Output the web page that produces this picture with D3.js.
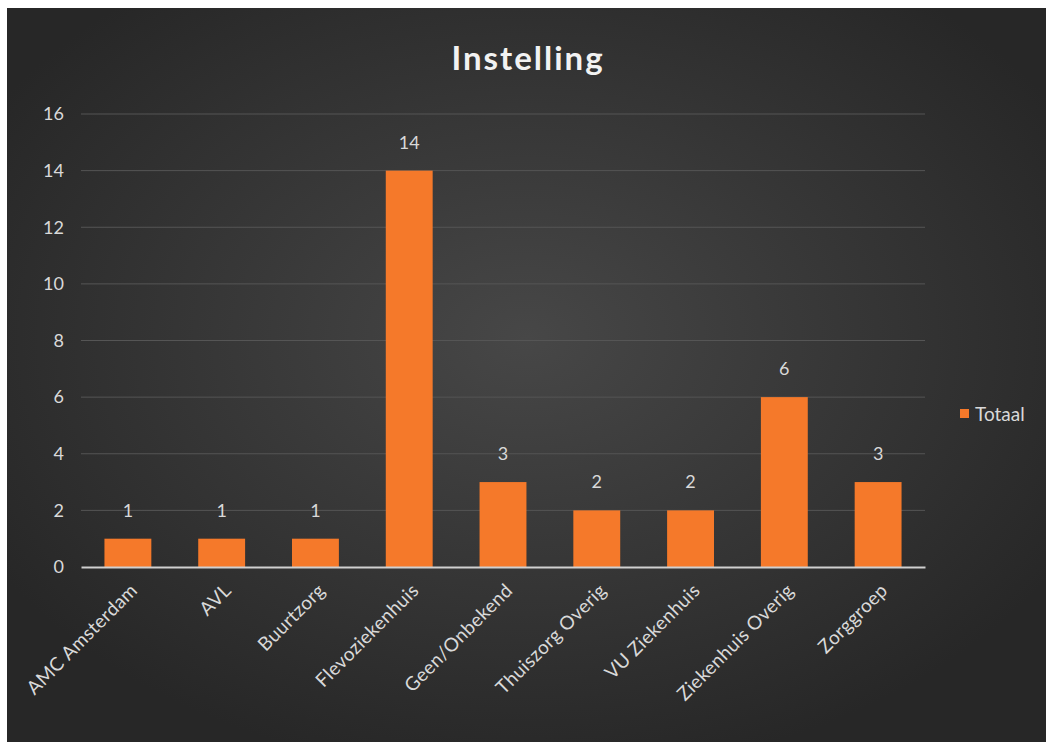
<!DOCTYPE html>
<html>
<head>
<meta charset="utf-8">
<script src="https://cdn.jsdelivr.net/npm/d3@7"></script>
<style>
  body { margin: 0; background: #fff; }
  svg { display: block; }
</style>
</head>
<body>
<svg id="chart"></svg>
<script>
// data
var categories = ["AMC Amsterdam", "AVL", "Buurtzorg", "Flevoziekenhuis", "Geen/Onbekend",
  "Thuiszorg Overig", "VU Ziekenhuis", "Ziekenhuis Overig", "Zorggroep"];
var totaal = [1, 1, 1, 14, 3, 2, 2, 6, 3];
var yTicks = [0, 2, 4, 6, 8, 10, 12, 14, 16];

var W = 1046, H = 742;
var font = "Lato, 'Open Sans', sans-serif";

var svg = d3.select("#chart").attr("width", W).attr("height", H);

// background with light centre
var defs = svg.append("defs");
var grad = defs.append("radialGradient").attr("id", "bg")
  .attr("cx", "50%").attr("cy", "45%").attr("r", "60%");
grad.append("stop").attr("offset", "0%").attr("stop-color", "#474747");
grad.append("stop").attr("offset", "100%").attr("stop-color", "#272727");

svg.append("rect").attr("x", 7).attr("y", 8)
  .attr("width", W - 7).attr("height", H - 8)
  .attr("fill", "url(#bg)");

var margin = { top: 114, left: 81, right: 925, bottom: 567 };

var x = d3.scaleBand().domain(categories).range([margin.left, margin.right]).paddingInner(0.5).paddingOuter(0.25);
var y = d3.scaleLinear().domain([0, 16]).range([margin.bottom, margin.top]);

//title
svg.append("text")
  .attr("x", 528).attr("y", 70)
  .attr("text-anchor", "middle")
  .attr("font-family", font).attr("font-weight", "bold")
  .attr("font-size", 33).attr("letter-spacing", 2)
  .attr("fill", "#f2f2f2")
  .text("Instelling");

//gridlines
svg.append("g").selectAll("line").data(yTicks.filter(d => d > 0)).join("line")
  .attr("x1", margin.left).attr("x2", margin.right)
  .attr("y1", d => y(d)).attr("y2", d => y(d))
  .attr("stroke", "#555").attr("stroke-width", 1);

//y axis
var yAxis = svg.append("g")
  .attr("transform", `translate(${margin.left - 17},0)`)
  .call(d3.axisLeft(y).tickValues(yTicks).tickSize(0).tickPadding(0));
yAxis.select(".domain").remove();
yAxis.selectAll("text")
  .attr("font-family", font).attr("font-size", 18).attr("fill", "#d9d9d9");

//bars
var bar = svg.append("g");
bar.selectAll("rect").data(totaal).join("rect")
  .attr("x", (d, i) => x(categories[i]))
  .attr("y", d => y(d))
  .attr("width", x.bandwidth())
  .attr("height", d => y(0) - y(d))
  .attr("fill", "#f5792a");

//value labels
bar.selectAll("text").data(totaal).join("text")
  .attr("x", (d, i) => x(categories[i]) + x.bandwidth() / 2)
  .attr("y", d => y(d) - 22)
  .attr("text-anchor", "middle")
  .attr("font-family", font).attr("font-size", 18).attr("fill", "#d9d9d9")
  .text(d => d);

//x axis
var xAxis = svg.append("g")
  .attr("transform", `translate(0,${y(0)})`)
  .call(d3.axisBottom(x).tickSize(0).tickPadding(0));
xAxis.select(".domain").attr("stroke", "#d0d0d0").attr("stroke-width", 2);
xAxis.selectAll("text")
  .attr("font-family", font).attr("font-size", 19).attr("fill", "#d9d9d9")
  .attr("letter-spacing", 0.3)
  .attr("text-anchor", "end")
  .attr("transform", "translate(6,20) rotate(-45)")
  .attr("dy", "0.35em");

//legend
var legend = svg.append("g").attr("transform", "translate(960,409)");
legend.append("rect").attr("width", 9).attr("height", 9).attr("fill", "#f5792a");
legend.append("text").attr("x", 15).attr("y", 5).attr("dy", "0.35em")
  .attr("font-family", font).attr("font-size", 19).attr("fill", "#d9d9d9")
  .text("Totaal");
</script>
</body>
</html>
